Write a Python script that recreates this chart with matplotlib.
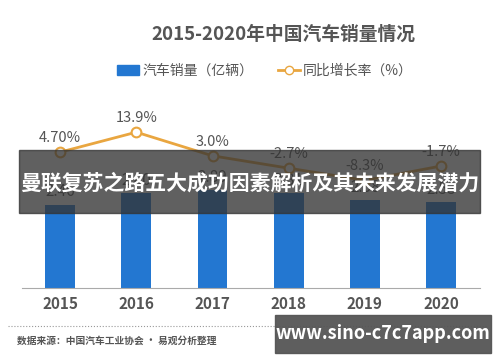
import matplotlib.pyplot as plt
from matplotlib.patches import Rectangle
from matplotlib.lines import Line2D

plt.rcParams['font.family'] = ['Noto Sans CJK SC', 'DejaVu Sans']

# data
years = ['2015', '2016', '2017', '2018', '2019', '2020']
sales = [2.46, 2.80, 2.89, 2.81, 2.58, 2.53]          # 亿辆
growth = [4.7, 13.9, 3.0, -2.7, -8.3, -1.7]           # %
growth_labels = ['4.70%', '13.9%', '3.0%', '-2.7%', '-8.3%', '-1.7%']

bar_color = '#2377d1'
line_color = '#e9a640'
text_gray = '#555555'

fig = plt.figure(figsize=(5, 3.62), dpi=100)
ax = fig.add_axes([0.044, 0.204, 0.916, 0.492])
x = list(range(len(years)))

ax.bar(x, sales, width=0.39, color=bar_color, zorder=2)
for xi, v in zip(x, sales):
    ax.text(xi, v + 0.12, f'{v:.2f}', ha='center', va='bottom', fontsize=11, color=text_gray)
ax.set_xlim(-0.5, 5.51)
ax.set_ylim(0, 5.24)
ax.set_yticks([])
for s in ['top', 'right', 'left']:
    ax.spines[s].set_visible(False)
ax.spines['bottom'].set_color('#aaaaaa')
ax.set_xticks(x)
ax.set_xticklabels(years, fontsize=11, color=text_gray, fontweight='bold')
ax.tick_params(axis='x', length=0, pad=6)

ax2 = ax.twinx()
ax2.plot(x, growth, color=line_color, lw=2, marker='o', markersize=7,
         markerfacecolor='white', markeredgecolor=line_color, markeredgewidth=1.5, zorder=3)
for xi, v, lab in zip(x, growth, growth_labels):
    ax2.text(xi, v + 3.2, lab, ha='center', va='bottom', fontsize=10.5, color=text_gray)
ax2.set_ylim(-58, 24.1)
ax2.axis('off')

# title and legend
fig.text(0.566, 0.905, '2015-2020年中国汽车销量情况', ha='center', va='center',
         fontsize=13.5, fontweight='bold', color=text_gray)
handles = [Rectangle((0, 0), 1, 1, color=bar_color),
           Line2D([0], [0], color=line_color, lw=2, marker='o', markersize=6,
                  markerfacecolor='white', markeredgecolor=line_color)]
fig.legend(handles, ['汽车销量（亿辆）', '同比增长率（%）'], loc='center',
           bbox_to_anchor=(0.53, 0.805), ncol=2, frameon=False, fontsize=10,
           labelcolor=text_gray, handlelength=1.6, handletextpad=0.2, columnspacing=1.8)

# source line
fig.add_artist(Line2D([0.016, 0.974], [0.1, 0.1], color='#999999', lw=0.8, ls=':'))
fig.text(0.034, 0.058, '数据来源：中国汽车工业协会 · 易观分析整理', fontsize=7, color='#555555',
         va='center', fontweight='bold')

# overlay banner
fig.add_artist(Rectangle((0.038, 0.412), 0.922, 0.174, transform=fig.transFigure,
                         color='#333333', alpha=0.78, zorder=10))
fig.text(0.5, 0.495, '曼联复苏之路五大成功因素解析及其未来发展潜力', ha='center', va='center',
         fontsize=15, fontweight='bold', color='white', zorder=11)

# site box
fig.add_artist(Rectangle((0.55, 0.025), 0.432, 0.105, transform=fig.transFigure,
                         color='#555555', alpha=0.95, zorder=10))
fig.text(0.766, 0.078, 'www.sino-c7c7app.com', ha='center', va='center', fontsize=13,
         fontweight='bold', color='white', zorder=11)

fig.savefig('out.png', dpi=100)
